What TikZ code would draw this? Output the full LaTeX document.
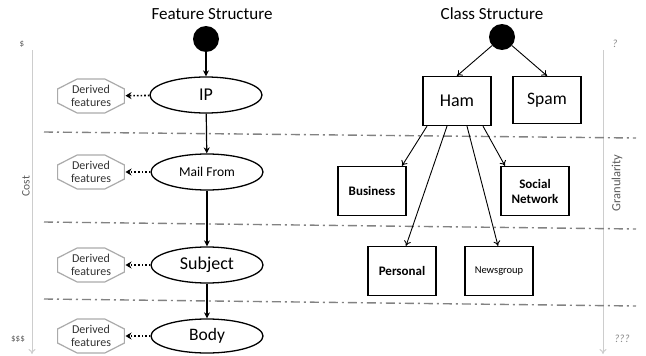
\documentclass[tikz,border=0pt]{standalone}
\usepackage{fontspec}
\setmainfont{Carlito}
\usetikzlibrary{shapes.geometric,arrows.meta}
\definecolor{axisgray}{RGB}{205,205,205}
\definecolor{dashgray}{RGB}{130,130,130}
\definecolor{octgray}{RGB}{170,170,170}
\definecolor{labgray}{RGB}{90,90,90}
\tikzset{
  flow/.style={-{Stealth[length=6pt,width=6pt]}, line width=1.2pt},
  tree/.style={-{To[length=5pt,width=7pt]}, line width=0.9pt},
  ell/.style={ellipse, draw, line width=1.3pt, minimum width=112pt, minimum height=36pt, inner sep=0pt},
  octtext/.style={font=\fontsize{12}{13.5}\selectfont, text=black!80, align=center},
  cls/.style={rectangle, draw, line width=1.3pt, minimum width=68pt, minimum height=49pt, inner sep=1pt, align=center},
  dot/.style={circle, fill=black, minimum size=26pt, inner sep=0pt},
  sep/.style={dashgray, line width=1.4pt, dash pattern=on 9pt off 4pt on 2pt off 4pt},
  axis/.style={axisgray, line width=1pt, -{To[length=5pt,width=7pt]}},
  der/.style={-{Stealth[length=6pt,width=7pt]}, line width=1.6pt, dotted}
}
\begin{document}
\begin{tikzpicture}[x=1pt,y=-1pt]
\useasboundingbox (0,0) rectangle (646,356);
% axes
\coordinate (ltop) at (32,50);
\coordinate (lbot) at (32,354);
\coordinate (rtop) at (603,50);
\coordinate (rbot) at (603,354);
\draw[axis] (ltop) -- (lbot);
\draw[axis] (rtop) -- (rbot);
\node[text=labgray, font=\fontsize{9}{10}\selectfont] (dol1) at (22,44) {\$};
\node[text=labgray, font=\fontsize{9}{10}\selectfont] (dol3) at (18,339) {\$\$\$};
\node[text=labgray, font=\fontsize{11.5}{12}\selectfont, rotate=90] (cost) at (26,186) {Cost};
\node[text=labgray!70, font=\fontsize{11}{12}\selectfont\itshape] (q1) at (615,44) {?};
\node[text=labgray!70, font=\fontsize{11}{12}\selectfont\itshape] (q3) at (622,339) {???};
\node[text=labgray, font=\fontsize{12.5}{13}\selectfont, rotate=90] (gran) at (617,183) {Granularity};
% separators
\coordinate (s1a) at (44,132); \coordinate (s1b) at (636,138);
\coordinate (s2a) at (44,222); \coordinate (s2b) at (636,229);
\coordinate (s3a) at (44,299); \coordinate (s3b) at (636,306);
\draw[sep] (s1a) -- (s1b);
\draw[sep] (s2a) -- (s2b);
\draw[sep] (s3a) -- (s3b);
% titles
\node[font=\fontsize{17}{19}\selectfont] (ft) at (212,14) {Feature Structure};
\node[font=\fontsize{17}{19}\selectfont] (ct) at (492,14) {Class Structure};
% feature structure
\node[dot] (fs) at (206,39) {};
\node[ell, font=\fontsize{18}{20}\selectfont] (ip) at (206,95) {IP};
\node[ell, font=\fontsize{13.5}{15}\selectfont] (mf) at (207,172) {Mail From};
\node[ell, font=\fontsize{18}{20}\selectfont] (sub) at (207,265) {Subject};
\node[ell, font=\fontsize{17.5}{20}\selectfont, minimum height=34pt] (body) at (207,336) {Body};
\draw[flow] (fs) -- (ip);
\draw[flow] (ip) -- (mf);
\draw[flow] (mf) -- (sub);
\draw[flow] (sub) -- (body);
% derived features
\foreach \n/\y in {d1/96, d2/172, d3/265, d4/336}{
  \node[regular polygon, regular polygon sides=8, draw=octgray, line width=1.2pt, minimum size=38pt, inner sep=0pt, xscale=1.9, yscale=0.97] (\n) at (91,\y) {};
  \node[octtext] (\n t) at (91,\y) {Derived\\features};
}
\draw[der] (ip) -- (d1);
\draw[der] (mf) -- (d2);
\draw[der] (sub) -- (d3);
\draw[der] (body) -- (d4);
% class structure
\node[dot] (cs) at (502,37) {};
\node[cls, font=\fontsize{18}{20}\selectfont] (ham) at (457,101) {Ham};
\node[cls, font=\fontsize{17.5}{20}\selectfont, minimum height=47pt] (spam) at (547,100) {Spam};
\node[cls, font=\fontsize{13}{15}\selectfont\bfseries] (bus) at (372,191) {Business};
\node[cls, font=\fontsize{13}{15}\selectfont\bfseries] (soc) at (535,191) {Social\\Network};
\node[cls, font=\fontsize{13}{15}\selectfont\bfseries] (per) at (402,271) {Personal};
\node[cls, font=\fontsize{10.5}{12}\selectfont] (news) at (499,271) {Newsgroup};
\draw[tree] (cs) -- (ham.north);
\draw[tree] (cs) -- (spam.north);
\draw[tree] ([xshift=-30pt]ham.south) -- ([xshift=30pt]bus.north);
\draw[tree] ([xshift=-10pt]ham.south) -- ([xshift=4pt]per.north);
\draw[tree] ([xshift=10pt]ham.south) -- ([xshift=-1pt]news.north);
\draw[tree] ([xshift=26pt]ham.south) -- ([xshift=-30pt]soc.north);
\end{tikzpicture}
\end{document}
